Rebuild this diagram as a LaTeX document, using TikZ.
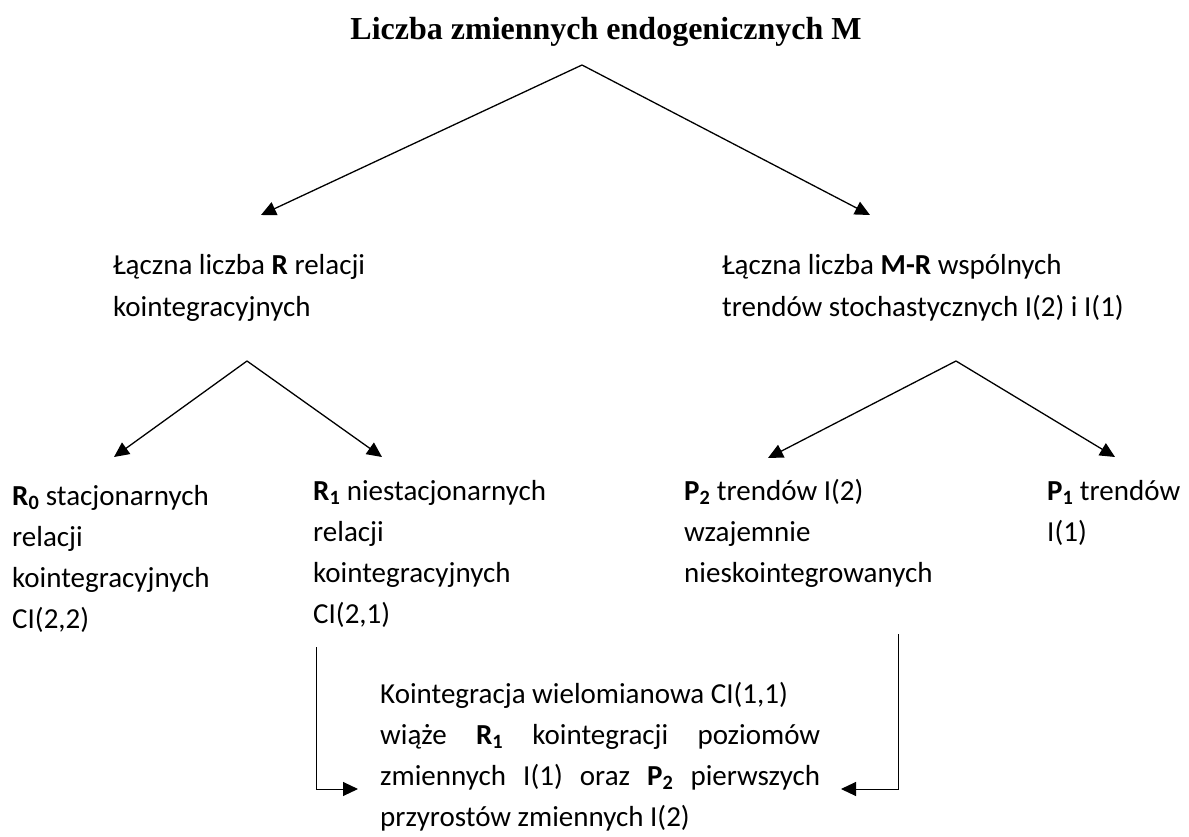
\documentclass[tikz,border=0pt]{standalone}
\usepackage{fontspec}
\setmainfont{Carlito}
\newfontfamily\titlefont{Liberation Serif}
\usetikzlibrary{arrows.meta}
\begin{document}
\begin{tikzpicture}[x=1pt,y=-1pt,
  % multi-line labels are placed by the baseline of their last line
  lbl/.style={inner sep=0pt, anchor=base west, align=left,
              font=\fontsize{29}{41}\selectfont},
  link/.style={line width=1.3pt, -{Triangle[length=15pt,width=14pt]}},
  elbow/.style={line width=1pt, -{Triangle[length=15pt,width=14pt]}}]
\useasboundingbox (0,0) rectangle (1189,837);

% heading
\node[inner sep=0pt, anchor=base,
      font=\titlefont\bfseries\fontsize{32}{38}\selectfont]
  (title) at (606,40) {Liczba zmiennych endogenicznych M};

% second level
\node[lbl] (rtot) at (113,316) {Łączna liczba \textbf{R} relacji\\kointegracyjnych};
\node[lbl] (trend) at (722,316) {Łączna liczba \textbf{M-R} wspólnych\\trendów stochastycznych I(2) i I(1)};

% third level
\node[lbl] (r0) at (12,628) {\textbf{R\textsubscript{0}} stacjonarnych\\relacji\\kointegracyjnych\\CI(2,2)};
\node[lbl] (r1) at (313,623) {\textbf{R\textsubscript{1}} niestacjonarnych\\relacji\\kointegracyjnych\\CI(2,1)};
\node[lbl] (p2) at (684,582) {\textbf{P\textsubscript{2}} trendów I(2)\\wzajemnie\\nieskointegrowanych};
\node[lbl] (p1) at (1047,541) {\textbf{P\textsubscript{1}} trendów\\I(1)};

% polynomial cointegration
\node[lbl] (multi) at (380,826) {Kointegracja wielomianowa CI(1,1)\\
  \makebox[440pt][s]{wiąże \textbf{R\textsubscript{1}} kointegracji poziomów}\\
  \makebox[440pt][s]{zmiennych I(1) oraz \textbf{P\textsubscript{2}} pierwszych}\\
  przyrostów zmiennych I(2)};

% branching points and arrow tips
\coordinate (titleFork) at (582,65);
\coordinate (rtotIn) at (261,215);
\coordinate (trendIn) at (870,215);
\coordinate (rtotFork) at (247,361);
\coordinate (r0In) at (114,457);
\coordinate (r1In) at (382,457);
\coordinate (trendFork) at (956,361);
\coordinate (p2In) at (768,458);
\coordinate (p1In) at (1115,457);
\coordinate (r1Foot) at (316,647);
\coordinate (p2Foot) at (898,634);
\coordinate (multiL) at (358,789);
\coordinate (multiR) at (841,789);

\draw[link] (titleFork) -- (rtotIn);
\draw[link] (titleFork) -- (trendIn);
\draw[link] (rtotFork) -- (r0In);
\draw[link] (rtotFork) -- (r1In);
\draw[link] (trendFork) -- (p2In);
\draw[link] (trendFork) -- (p1In);
\draw[elbow] (r1Foot) |- (multiL);
\draw[elbow] (p2Foot) |- (multiR);
\end{tikzpicture}
\end{document}
